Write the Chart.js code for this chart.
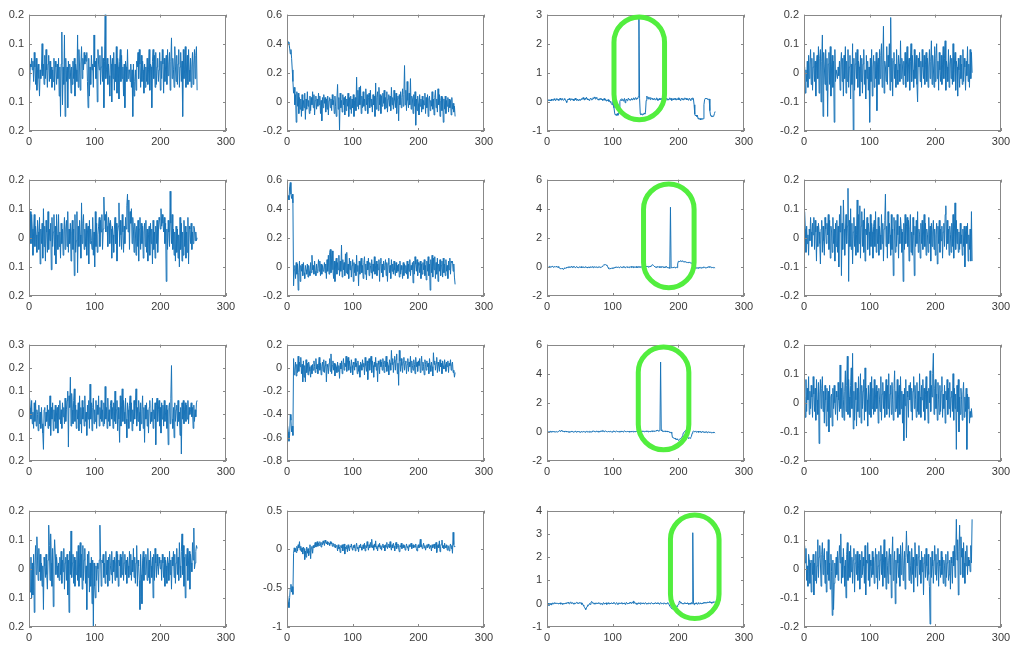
<!DOCTYPE html>
<html>
<head>
<meta charset="utf-8">
<script src="https://cdn.jsdelivr.net/npm/chart.js@4.4.0/dist/chart.umd.min.js"></script>
<style>
  body { margin: 0; background: #fff; width: 1015px; height: 648px; overflow: hidden; position: relative; }
  canvas { position: absolute; }
</style>
</head>
<body>
<script>
// row 1
const r1c1 = [
  -.06,.03,.02,.05,.01,.04,-.03,.07,.02,-.04,.05,-.06,.01,.03,-.02,-.08,
  .01,-.02,.02,.1,-.01,.03,-.04,.06,-.02,.08,.01,-.05,.03,.06,-.03,.04,
  -.02,.02,-.05,.01,-.03,.05,-.06,.04,.02,-.04,.03,-.02,.05,-.08,.02,-.15,
  .03,.14,-.11,.02,-.04,.13,-.15,.05,-.03,.02,-.12,.04,-.02,.03,.01,-.07,
  .02,-.04,.04,-.02,.05,-.08,.03,.01,-.03,.13,-.05,.08,.02,-.06,.03,.09,
  -.02,.05,.01,.07,.03,.06,.04,.07,-.03,-.12,.05,-.08,.02,-.04,.06,.01,
  .03,-.05,.13,.02,.04,-.02,.05,-.1,.08,.03,.01,.06,-.04,.02,.09,-.03,
  .05,-.12,.04,.2,-.02,.01,.05,-.04,.03,-.01,-.08,.06,.03,-.1,.05,-.02,
  .07,-.06,.03,-.03,.09,-.07,.05,.02,-.09,.04,.08,-.03,.06,-.02,.02,-.08,
  .03,-.12,.04,.02,-.03,.08,-.02,.01,.01,-.03,.03,-.05,.01,-.15,.03,-.08,
  -.03,.01,-.06,.04,.02,.07,-.02,.08,.03,-.05,.06,-.03,.04,.01,-.07,.03,
  -.05,.02,-.03,.05,-.04,.01,.08,-.06,.03,.02,-.12,.04,.08,-.02,.06,-.05,
  .07,-.04,.02,.05,-.03,.01,.07,-.06,.04,-.02,.08,.03,-.07,.05,-.03,.02,
  .06,-.04,.08,-.01,.03,.07,-.06,.04,.12,-.02,.05,.01,-.05,.09,.02,-.03,
  .06,-.04,.03,.08,-.05,.02,.07,-.03,.04,-.15,.08,-.02,.01,.09,-.05,.02,
  .06,-.04,.08,.01,-.03,.05,-.05,.02,.07,-.04,.03,.08,-.02,.06,.09,-.06
];
const r1c2 = [
  .42,.41,.4,.37,.33,.36,.3,.22,.14,.06,.1,-.02,.05,-.14,.07,-.03,
  .06,-.08,.03,-.05,.02,-.1,.05,-.06,.01,-.04,.06,-.12,.02,-.05,.07,-.03,
  .01,-.08,.04,-.06,.03,-.02,.07,-.04,.05,-.09,.01,.04,-.05,.02,-.03,.06,
  -.02,.04,-.08,.01,-.13,.03,-.04,.05,-.01,.03,-.07,.02,-.05,.04,-.09,.01,
  .03,-.04,.02,-.06,.05,-.02,.01,-.08,.04,-.03,-.1,.02,.12,-.05,.03,-.2,
  .06,-.04,.01,-.07,.05,-.02,.03,-.09,.04,-.06,.02,-.03,.06,-.1,.03,-.05,
  .04,-.08,.02,-.04,.05,-.1,.01,.03,-.06,.17,-.03,.08,-.05,.1,-.02,.11,
  -.08,.04,-.04,.07,-.03,.02,-.06,.09,-.02,.05,-.08,.03,.06,-.04,.08,-.03,
  .02,-.07,.05,-.02,.04,-.1,.13,-.05,.03,.07,-.06,.1,-.02,.05,-.08,.04,
  -.03,.06,-.01,.08,-.05,.03,-.04,.07,-.07,.02,.05,-.03,.04,-.06,.1,-.02,
  .03,-.05,.08,.01,-.04,.06,-.08,.02,.04,-.13,.05,-.02,.07,-.04,.03,.09,
  -.03,.05,.25,-.02,.08,-.06,.14,.01,-.04,.06,-.02,.16,-.05,.04,.02,-.08,
  .05,-.03,.07,-.16,.02,-.06,.04,-.01,-.09,.05,-.03,.02,-.07,.04,-.05,.01,
  -.02,.06,-.08,.03,-.04,.05,-.1,.02,.04,-.06,.01,-.03,.07,-.05,.02,-.09,
  .03,.08,-.04,.02,-.07,.09,-.02,.05,-.1,.01,.04,-.06,.03,-.14,.02,-.05,
  .04,-.08,.01,-.03,.03,-.07,.02,-.04,.01,-.09,.03,-.05,-.01,-.07,-.03,-.1
];
const r1c3 = [
  .02,.05,.08,.04,.07,.03,.1,.06,.09,.05,.11,.07,.04,.08,.12,.06,
  .09,.05,.1,.13,.08,.06,.11,.09,.05,.08,.12,.07,.03,-.02,.06,.1,
  .08,.12,.07,.05,.09,.11,.06,.1,.04,.08,.13,.07,.05,.09,.06,.03,
  .07,.1,.05,.08,.12,.09,.15,.1,.06,.13,.09,.16,.11,.07,.1,.05,
  .08,.12,.1,.06,.09,.14,.11,.17,.13,.09,.15,.12,.08,.1,.06,.11,
  .09,.13,.07,.1,.05,.08,.12,.06,.09,.03,.07,.04,.08,.02,.05,-.01,
  .02,-.06,-.1,-.04,.08,-.2,-.38,-.45,-.42,-.47,-.4,-.46,-.43,-.3,.02,.08,
  .05,.11,.07,.03,.09,.12,-.03,.06,.1,.04,.08,.13,.07,.1,.05,.09,
  .12,.06,.1,.14,.08,.11,.15,.09,.13,.1,.18,2.9,.12,-.4,-.44,-.42,
  -.45,-.41,-.43,-.38,-.42,-.35,.05,.2,.14,.1,.17,.12,.08,.15,.11,.09,
  .13,.07,.1,.12,.06,.09,.14,.1,.05,.08,.12,.07,.11,.09,.13,.06,
  .1,.08,.12,.05,.09,.13,.07,.11,.06,.1,.14,.08,.12,.05,.09,.11,
  .07,.12,.08,.13,.06,.1,.09,.14,.07,.11,.05,.1,.13,.08,.12,.06,
  .1,.14,.09,.12,.07,.11,.06,.1,.13,.08,.05,.12,.09,.14,.1,-.1,
  -.42,-.48,-.45,-.5,-.46,-.58,-.55,-.6,-.57,-.62,-.59,-.56,-.6,-.58,-.1,.08,
  .12,.1,.13,.09,.11,.08,.1,-.3,-.45,-.5,-.47,-.52,-.49,-.48,-.4,-.33
];
const r1c4 = [
  .02,-.07,.01,-.03,.04,-.05,.06,-.02,.03,.08,-.04,.05,-.06,.02,.07,-.03,
  .04,-.08,.03,.06,-.02,.09,-.07,.05,.08,-.1,.04,.13,-.15,.07,.02,-.04,
  .08,-.06,.05,-.15,.03,.07,-.04,.09,-.08,.02,.06,-.05,.04,-.17,.08,-.03,
  .01,.01,-.02,.02,-.01,.04,-.06,.03,.07,-.03,.05,-.08,.06,-.02,.09,-.07,
  .04,-.03,.08,-.05,.02,.06,-.09,.03,-.04,.1,-.2,.05,-.06,.03,.07,-.02,
  .08,-.05,.04,.02,-.08,.06,-.03,.05,-.07,.03,.08,-.04,.01,-.09,.06,-.02,
  .04,-.06,.02,-.17,.05,-.03,.08,-.08,.02,.06,-.05,.04,-.02,.07,-.13,.03,
  .05,-.04,.08,-.02,.06,.1,-.05,.03,.16,-.07,.04,.02,-.03,.09,-.04,.06,
  .02,.1,-.06,.19,-.03,.05,-.08,.04,.07,-.02,.03,-.05,.08,.01,-.04,.06,
  .03,-.03,.11,-.02,.05,.02,-.04,.04,-.01,.07,-.05,.03,.09,-.03,.02,.05,
  -.06,.04,.1,-.03,.06,.01,-.05,.08,-.02,.03,.06,-.04,-.1,.05,.02,.07,
  -.03,.04,-.05,.08,.02,-.02,.06,-.04,.03,.07,-.03,.05,-.05,.02,.08,-.02,
  .04,.11,-.04,.06,.02,-.05,.09,-.03,.05,.1,-.02,.04,-.06,.07,.01,-.03,
  .06,-.04,.03,.09,-.02,.05,.11,-.06,.04,.02,-.03,.08,-.05,.03,.06,-.02,
  .05,-.04,.1,-.03,.03,.07,-.06,.04,.02,-.08,.05,.01,-.05,.06,-.02,.03,
  -.04,.08,-.03,.05,.02,-.06,.04,-.01,.09,-.03,.03,-.05,.08,-.02,.07,0
];
// row 2
const r2c1 = [
  0,.09,-.02,.08,.03,-.06,.02,.08,-.03,.04,.01,-.05,.06,.02,-.04,.07,
  -.09,.03,-.02,.05,-.07,.1,-.03,.04,-.08,.06,.02,-.05,.09,-.04,.03,-.01,
  .05,-.11,.07,-.03,.02,.08,-.06,.04,-.09,.08,.01,-.04,.08,-.03,.02,-.07,
  .05,-.02,.03,-.06,.02,.07,-.04,.03,.06,-.03,.09,-.05,.03,-.02,.05,-.08,
  .02,.06,-.04,.03,-.13,.08,-.05,-.01,.09,-.12,.04,-.03,.06,.01,-.07,.12,
  -.02,.05,.08,-.04,.03,-.03,.05,-.06,.02,.04,-.09,.06,-.02,.03,-.01,-.04,
  .07,-.06,.02,-.1,.09,-.03,.05,-.05,.01,.04,.07,-.03,.06,.02,.08,-.04,
  .03,.14,.06,.08,.02,.09,.04,-.03,.07,.05,-.02,.06,.03,-.07,.04,.01,
  -.05,.03,.07,-.02,.05,-.08,.02,.04,.12,-.03,.06,.01,-.04,.08,.02,-.05,
  .04,-.02,.07,.03,.11,.15,.02,.13,-.04,.09,.05,.1,-.02,.07,.03,-.05,
  .05,.02,-.06,.04,-.03,.06,-.08,.03,.07,-.04,.05,-.02,.04,-.07,.02,.05,
  -.03,.06,-.05,.03,-.08,.01,.04,-.06,.05,-.02,.03,-.09,.06,-.04,.02,-.07,
  .04,-.02,.06,-.05,.02,.07,.06,.03,.1,.04,.08,.05,.02,.07,-.02,.05,
  -.15,.03,-.04,.06,.02,-.03,.16,.05,-.02,.08,-.04,.03,-.06,.02,-.08,.04,
  -.05,.03,-.07,.01,-.1,.07,-.04,.05,-.08,.02,-.06,.06,-.03,.04,-.07,.02,
  -.05,.07,-.09,.04,.03,-.02,.05,-.04,.02,-.02,.04,.03,-.01,.02,-.01,0
];
const r2c2 = [
  .47,.49,.46,.55,.58,.5,.47,.5,.44,-.13,-.02,.01,-.08,.03,-.05,.02,
  -.16,-.04,.04,-.1,.01,-.03,.02,-.06,.03,-.04,-.08,.01,-.02,-.05,.02,-.07,
  .01,-.03,-.06,.03,-.04,.08,-.02,.01,-.05,.04,-.03,-.06,.02,-.04,-.01,.05,
  -.03,.04,-.06,.02,-.05,.01,-.03,-.02,.03,-.04,.02,-.08,.05,-.03,.08,-.05,
  .1,.12,-.04,.06,.11,-.02,-.08,.04,-.1,.02,.06,-.05,.03,-.02,.08,-.06,
  .04,-.03,.15,-.07,.05,-.02,.03,-.06,.09,-.04,.1,-.05,.02,-.08,.06,-.02,
  .04,-.07,.01,.05,-.1,.03,-.04,.02,-.06,.08,-.03,.01,-.13,.04,-.05,.02,
  .06,-.04,.01,-.08,.03,.07,-.05,.02,-.09,.04,-.02,.06,-.06,.03,.01,-.04,
  .05,-.08,.02,-.03,.07,-.05,.01,.04,-.06,.02,-.02,.05,-.1,.03,.06,-.04,
  .02,-.07,.04,-.02,.01,.05,-.06,.03,-.1,.02,.06,-.04,.01,-.08,.05,-.03,
  .02,-.05,.04,-.02,-.06,.03,-.04,.01,-.03,.02,-.07,.04,-.05,.01,-.02,-.08,
  .03,-.06,.02,-.04,.01,-.05,.04,-.08,.02,-.03,.05,-.06,.01,-.02,.03,-.11,
  .04,-.05,.07,.02,-.03,.05,-.06,.03,.01,-.04,.04,-.08,.02,-.05,.03,-.02,
  .05,-.06,.01,-.09,.04,-.03,.07,-.06,.02,-.16,.05,-.04,.08,-.07,.06,-.02,
  .07,-.08,.03,-.05,.06,-.1,.02,-.03,.05,-.06,.01,.04,-.07,.06,-.04,.02,
  -.06,.05,-.03,.01,-.08,.04,-.02,.06,-.05,.04,.03,.04,-.03,.02,-.07,-.12
];
const r2c3 = [
  .02,-.03,.01,.04,-.02,.03,-.01,.05,.02,-.04,.01,.03,-.02,.04,0,-.03,
  .02,-.05,-.08,-.12,-.1,-.15,-.09,-.13,-.18,-.11,-.06,-.1,-.04,-.08,-.02,-.05,
  .01,-.03,.02,-.04,.03,-.01,-.06,.02,-.02,.01,-.05,-.02,.03,-.04,0,-.06,
  -.02,.01,-.04,.02,-.06,-.01,-.03,.01,-.05,-.02,.02,-.04,-.01,-.07,-.03,0,
  -.05,-.02,.01,-.04,.02,-.03,-.06,-.01,.02,-.04,-.02,.01,-.05,-.03,.02,-.01,
  -.04,0,-.02,.03,.08,.12,.15,.13,.16,.11,.14,.05,-.05,-.12,-.15,-.1,
  -.13,-.08,-.11,-.06,-.09,-.03,-.07,-.01,-.05,.01,-.04,-.02,0,-.06,-.03,.02,
  -.04,-.01,-.05,.02,-.03,0,-.06,-.02,.01,-.04,.02,-.03,-.05,.01,-.02,.03,
  -.04,-.01,.02,-.05,-.02,.01,-.03,.03,-.06,-.01,.02,-.04,0,-.03,.03,-.02,
  .01,-.04,.02,-.01,.04,-.03,.05,0,.03,-.02,.04,.01,.06,.02,.1,.13,
  .15,.1,.05,.02,-.03,.01,-.04,0,.03,-.02,.02,-.05,.01,-.03,.04,-.01,
  -.04,.02,-.06,.01,-.03,.03,-.05,-.02,-.08,-.04,-.1,4.1,-.06,-.03,-.05,-.02,
  -.06,-.01,-.04,-.07,-.03,-.05,.2,.38,.4,.36,.42,.39,.37,.41,.38,.35,
  .36,.33,.35,.31,.34,.3,.32,.28,.31,.27,.3,.26,.22,.1,-.05,-.08,
  -.1,-.06,-.09,-.04,-.08,-.05,-.1,-.03,-.07,-.04,-.08,-.02,-.06,-.05,.01,-.04,
  -.07,-.03,-.06,-.02,-.05,.02,-.03,.04,-.02,-.05,-.01,-.04,-.06,-.03,-.05,-.07
];
const r2c4 = [
  .09,.03,-.05,.04,-.02,.01,-.06,.03,-.01,.07,.02,-.03,.05,.01,.07,-.04,
  .06,.02,-.08,.04,-.03,.05,.02,-.02,-.09,.03,.06,-.05,.04,-.01,-.06,.07,
  .03,-.02,.05,.01,.08,-.04,.06,-.07,.04,.02,-.05,.07,-.02,.03,-.08,.05,
  -.03,.06,-.05,.04,-.1,.08,.02,.11,-.13,.05,-.04,.13,.03,-.06,.02,.08,
  -.02,.04,.17,-.15,.06,-.03,.1,-.04,.05,-.09,.02,.07,-.03,.04,-.06,.01,
  .13,-.05,.08,-.02,.11,-.07,.04,.09,-.03,.06,-.05,.1,-.08,.03,.01,.07,
  -.04,.05,.02,-.06,.08,-.03,.05,.02,-.07,.04,.06,-.03,.09,-.05,.03,-.02,
  .07,-.06,.04,.01,-.04,.08,-.02,.05,-.08,.03,.06,.15,-.03,.04,-.07,.09,
  -.02,.05,.01,-.06,.08,-.04,.03,-.13,.07,.02,-.05,.06,-.03,.08,.01,-.07,
  .04,-.02,.07,.03,-.05,.02,-.15,.05,-.04,.08,-.02,.04,.07,-.03,.06,-.08,
  .03,.08,-.05,.02,-.06,.07,.01,-.13,.04,-.03,.06,-.02,.09,-.05,.03,.01,
  -.07,.05,-.02,.06,-.04,.02,.08,-.03,.05,-.06,.03,.01,-.05,.07,-.02,.04,
  -.08,.05,-.03,.02,.06,-.04,.03,-.06,.01,.05,-.09,.04,-.02,.06,-.05,.03,
  -.01,.04,-.07,.02,.05,-.03,.08,.11,-.04,.06,-.02,.03,-.06,.04,.01,-.05,
  .05,-.03,.08,-.07,.02,.12,-.04,.06,-.02,.03,-.05,.02,-.04,.05,-.02,.01,
  -.06,.03,-.03,.04,-.1,.02,.04,-.02,.05,-.08,.01,-.04,.03,-.08,.09,-.08
];
// row 3
const r3c1 = [
  .07,.03,-.02,.06,-.04,.01,-.06,.05,-.03,.06,-.05,.02,0,-.07,.04,-.04,
  .01,-.06,.03,-.04,-.08,-.15,.02,.03,-.05,.01,-.03,.04,-.06,.02,-.05,.08,
  -.09,.03,-.02,.05,-.07,.02,-.03,.04,-.06,.01,.03,-.08,.04,-.02,.06,-.04,
  .02,-.06,.05,-.01,.03,-.04,.07,-.03,.02,.06,.1,-.14,.08,.03,.16,-.05,
  .09,.02,-.04,.06,.11,-.03,.04,-.06,.02,-.02,.05,-.07,.08,-.04,.03,-.08,
  .06,-.02,.03,-.05,.08,-.03,.01,-.09,.04,-.02,.06,-.06,.13,-.02,.05,-.07,
  .03,.07,-.04,.02,-.03,.06,-.06,.04,0,.08,-.05,.03,-.02,.06,-.03,.02,
  -.05,.05,-.04,.12,-.02,.03,-.06,.07,-.03,.02,-.05,.04,.06,-.02,.03,-.06,
  .05,-.03,.1,-.04,.02,.06,-.07,.03,-.02,-.12,.08,-.05,.04,.11,-.03,.06,
  .01,-.04,.07,-.02,-.1,.05,.02,-.06,.04,.08,-.03,.05,-.07,.02,-.04,.06,
  -.02,.04,.11,-.05,.03,-.03,.06,.01,-.07,.05,-.04,.02,.08,-.06,.03,-.12,
  .04,-.02,.05,-.05,.02,-.08,.03,.06,-.04,.01,-.03,.07,-.06,.02,-.02,.05,
  -.13,.04,.07,-.03,.02,.06,-.05,.03,-.08,.05,-.02,.04,-.05,.06,-.03,.01,
  .04,-.06,.02,-.13,.03,.05,-.04,.07,.21,-.02,-.06,.03,-.1,.05,-.03,.02,
  .04,-.05,.06,-.03,.01,-.09,.03,-.17,.05,-.02,.06,-.04,.02,.05,-.03,.04,
  -.02,.06,-.04,.03,0,.02,.05,-.01,.03,-.06,.04,-.03,.02,-.01,.05,.06
];
const r3c2 = [
  -.5,-.55,-.63,-.58,-.4,-.45,-.55,-.5,-.58,.08,-.06,-.02,.05,-.07,.03,-.04,
  .1,-.03,.05,.01,.09,-.05,.03,-.12,.06,-.08,.02,-.12,.07,-.04,.04,-.06,
  .05,.01,-.03,-.08,.02,-.05,.03,-.02,.06,.01,-.04,.08,-.01,.03,-.05,.02,
  .09,-.02,.04,-.06,.01,.05,-.03,.07,-.04,.02,.06,-.12,.03,.01,-.05,.04,
  .08,-.03,.12,-.05,.02,.06,-.02,.04,-.07,.03,.01,-.04,.05,-.03,.02,-.09,
  .04,-.01,.06,-.05,.03,.08,-.02,.04,.01,.1,-.03,.05,.09,-.02,.06,.01,
  -.04,.07,.02,-.06,.05,.03,-.02,.08,.01,.04,-.05,.06,-.03,.02,-.08,.05,
  .03,-.02,.07,.01,.04,-.06,.09,.02,-.03,.06,-.1,.04,.08,-.02,.05,.1,
  -.04,.06,.02,-.08,.05,.01,.09,-.02,.04,-.12,.06,.03,-.05,.07,.01,.05,
  -.02,.08,.03,-.04,.06,.01,.1,-.03,.05,.02,-.06,.07,.04,-.02,.15,.03,
  .08,-.04,.05,.1,-.02,.07,.12,-.05,.04,-.15,.15,.06,-.03,.08,.02,-.04,
  .05,.09,-.02,.04,.06,-.05,.03,.08,-.03,.05,.01,.1,-.04,.06,.02,-.02,
  .07,.03,-.05,.09,.01,.05,-.03,.06,.02,.08,-.04,.04,.1,-.02,.05,.01,
  -.06,.07,.03,-.02,.06,.01,.04,-.05,.08,.02,-.03,.05,.01,-.07,.13,.03,
  .06,-.02,.04,.09,-.04,.05,.02,-.03,.07,.01,.04,-.05,.06,.02,-.01,.07,
  .03,-.03,.05,.01,.06,-.04,.04,.02,.07,-.02,.03,.05,-.04,-.02,-.08,-.04
];
const r3c3 = [
  .02,-.01,.03,0,.04,-.02,.01,.03,-.01,.02,0,.04,-.02,.01,.03,-.01,
  .02,.05,.1,.03,.06,.12,.04,.08,.02,.05,-.01,.03,.06,0,.02,-.02,
  .03,.01,-.03,.02,.04,-.01,.03,0,-.02,.02,.05,.01,-.03,.03,0,.02,
  -.01,.03,-.04,.01,.04,-.02,.02,.05,0,-.03,.02,.04,-.01,.03,.01,-.02,
  .04,0,.02,-.03,.06,.03,.08,.02,.05,-.01,.03,.07,.01,.04,-.02,.03,
  .06,.02,.05,.09,.03,.07,.01,.05,.08,.02,.04,-.01,.03,.06,0,.02,
  .05,.01,-.02,.03,.06,.02,.04,-.01,.03,.07,.02,.05,0,.03,-.02,.04,
  .06,.01,.03,-.01,.04,.08,.02,.05,0,.03,.06,.01,.04,-.02,.02,.05,
  .01,.03,-.01,.04,.02,.06,0,.03,.05,.01,.04,-.01,.02,.05,0,.03,
  .06,.02,.04,.01,.05,.03,.07,.02,.04,0,.06,.03,.05,.01,.04,.08,
  .02,.05,.03,.07,.04,.1,.06,.12,.08,.05,.07,.1,4.8,.15,.06,.03,
  .05,.02,.04,.07,.01,.03,.06,0,.02,-.03,.01,-.05,-.02,-.1,-.38,-.42,
  -.4,-.46,-.43,-.5,-.55,-.48,-.52,-.58,-.54,-.5,-.47,-.44,-.4,-.3,-.15,-.05,
  0,.06,.1,.08,-.05,-.3,-.42,-.45,-.4,-.44,-.38,-.3,-.1,.02,.05,.03,
  .01,.04,-.02,.03,0,.05,-.03,.02,-.01,.04,-.04,.01,.03,-.02,.02,-.05,
  0,-.03,.02,-.06,-.01,.01,-.04,0,-.02,-.07,-.03,-.05,-.01,-.06,-.04,-.08
];
const r3c4 = [
  .02,-.05,.08,-.03,.05,.01,.09,-.04,.04,-.02,.06,.02,-.05,.09,.03,-.03,
  .05,-.06,.08,.01,-.04,.07,-.14,.03,.08,-.02,.05,.09,-.03,.04,-.07,.06,
  .01,-.08,.05,-.03,.04,-.1,.06,-.05,.02,.03,-.08,.05,-.02,.06,0,-.04,
  .04,.02,-.06,.07,.01,-.03,.13,-.02,.05,-.05,.07,.01,-.06,.04,.11,-.03,
  .06,.16,-.04,.08,.02,-.05,.06,.12,-.02,.17,-.09,.04,-.06,.07,.01,-.08,
  .05,-.03,.09,-.05,.03,.1,-.07,.06,-.02,.04,.08,-.06,.12,-.03,.05,.01,
  -.08,.06,-.04,.02,.07,-.05,.09,-.02,.05,-.04,.08,-.03,.03,.06,-.02,.04,
  -.07,.05,.01,-.03,.09,-.06,.03,.07,-.02,.04,-.05,.02,.08,-.04,.06,-.02,
  .1,-.05,.03,.06,-.04,.07,.01,-.06,.05,.11,-.03,.04,-.02,.08,-.05,.03,
  .06,-.04,.09,-.02,.04,-.07,.03,-.13,.05,-.01,.08,-.12,.04,.02,-.05,.06,
  .01,.07,-.03,.05,-.06,.04,.09,-.02,.06,.01,-.05,.07,-.03,.04,-.04,.1,
  .02,-.05,.06,.01,.08,-.03,.05,-.06,.03,.09,-.02,.04,-.07,.05,0,.11,
  -.03,.06,.02,.1,.17,-.04,.05,.08,-.02,.03,-.06,.07,.01,-.04,.06,-.03,
  .04,.09,-.05,.03,-.02,.06,-.07,.04,.01,.08,-.04,.05,-.02,.07,-.05,.02,
  .04,-.03,.1,-.06,.05,-.02,.03,-.16,.06,-.03,.08,-.1,.02,-.04,.05,.01,
  -.06,.03,.07,-.05,.02,-.03,.05,-.16,.03,-.02,.02,-.07,-.03,-.05,-.02,-.05
];
// row 4
const r4c1 = [
  .03,-.08,.04,-.1,.02,-.09,.05,-.15,.01,.08,-.02,.11,.03,-.04,.07,-.01,
  .05,-.04,.02,-.06,.01,-.14,.04,.01,-.03,.05,-.02,-.07,.03,.15,.08,-.04,
  .12,.02,-.06,.07,-.13,.03,.1,.05,-.02,.04,.01,-.03,.02,-.04,.04,-.02,
  .06,-.05,.03,-.01,.07,-.07,.02,.04,-.04,.05,-.09,.03,-.15,.06,-.02,.13,
  -.03,.02,.05,-.05,.04,-.06,.03,-.02,.06,-.04,.08,-.06,.02,.09,-.03,.05,
  -.07,.08,-.04,.03,.07,-.05,.01,-.14,.05,-.03,.06,-.08,.02,-.06,.04,-.12,
  .03,-.2,.02,-.06,-.1,.01,-.04,.02,0,-.08,.03,.15,.04,-.06,.03,.02,
  .05,-.03,.02,-.05,.06,-.02,.03,-.06,.04,-.04,.05,.01,-.02,.06,-.05,.03,
  -.01,.04,-.04,.02,.06,-.03,.05,-.06,.03,.01,.05,-.03,.04,-.02,.06,-.04,
  .02,.05,-.02,.03,-.05,.04,.01,-.03,.06,-.02,.05,-.04,.03,-.01,.07,-.03,
  .04,-.05,.02,.08,-.06,.03,.01,-.04,-.14,.05,-.02,-.12,.03,.06,-.04,.04,
  -.02,.05,.02,-.04,.07,-.03,.03,-.05,.06,.01,-.03,.04,-.1,.05,-.04,.07,
  .02,-.03,.05,.01,-.02,.04,.02,0,.03,-.04,.05,.02,-.03,.04,-.06,.03,
  .01,-.05,.04,.02,-.04,.06,-.02,.03,-.07,.04,.01,.06,-.03,.05,-.05,.02,
  .07,-.02,.04,-.04,.09,.01,-.03,.06,.12,-.02,.08,-.06,.04,-.1,.05,.01,
  .07,-.04,.03,.06,-.07,.05,.02,-.01,.09,.03,.14,0,.02,.06,.08,.07
];
const r4c2 = [
  -.6,-.68,-.75,-.62,-.5,-.45,-.55,-.48,-.58,-.05,.02,-.03,.01,-.04,.04,-.02,
  .06,.02,.1,-.01,.04,-.03,.02,-.06,.03,.01,-.13,-.02,-.1,.03,-.05,.01,
  -.08,-.03,.06,-.12,.02,.04,-.05,.05,.02,.06,.09,.03,.07,.1,.04,.08,
  .05,.1,.07,.03,.09,.06,.11,.08,.05,.12,.09,.07,.1,.06,.09,.08,
  .05,.1,.07,.09,.04,.08,.06,.03,.07,.02,.05,.04,-.02,.06,.01,.03,
  -.04,.05,.02,.06,-.02,.04,.07,-.06,.03,.01,.05,-.03,.06,.02,-.02,.04,
  .03,.07,.01,-.01,.05,.02,.06,-.02,.04,.08,.01,.03,-.03,.05,.02,.07,
  .03,-.01,.04,.06,.01,.08,-.02,.05,.02,.1,.04,-.01,.06,.02,.09,.03,
  .13,.02,.05,-.01,.07,.03,.11,.01,.04,-.02,.06,.03,.08,.01,.05,-.01,
  .04,.07,.02,.05,-.02,.06,.03,.09,.01,.04,.07,.02,.1,.03,-.01,.06,
  .02,.08,.04,-.02,.05,.09,.01,.04,.07,.02,-.03,.05,.03,.08,.01,.04,
  .06,.02,.05,-.01,.03,.07,.02,.04,-.02,.06,.03,.05,.08,.01,.04,.06,
  .02,.05,.03,.07,.01,-.02,.04,.06,.02,.05,.13,.03,.06,.01,.04,.08,
  .02,.05,-.01,.03,.06,.02,.07,.04,.01,.05,.03,-.02,.06,.02,.04,.07,
  .01,.05,.09,-.04,.03,.06,.02,.11,-.03,.04,.07,.12,.02,.05,.01,.08,
  .04,.02,.06,-.01,.05,.03,-.02,.04,.07,.01,.05,-.05,.22,.06,.03,.04
];
const r4c3 = [
  -.05,.02,-.08,0,-.03,.03,-.06,.01,.04,-.02,.02,.05,0,.03,.01,.02,
  -.01,.03,0,.04,-.02,.02,.01,-.03,.03,0,.02,-.01,.04,.01,.03,.06,
  .02,0,.04,.08,.03,.01,.05,.02,-.02,.03,.01,.04,.06,.02,.05,0,
  .03,.06,.02,.04,-.03,.01,-.06,-.1,-.15,-.2,-.25,-.18,-.12,-.05,-.08,-.02,
  .01,-.03,.06,.1,.03,.05,0,.02,-.02,.03,.01,.04,-.01,.02,.05,0,
  -.02,.03,.01,-.04,.02,.05,-.01,.03,0,.04,-.03,.02,.01,.05,-.02,.03,
  0,.04,.02,-.01,.03,.06,.01,-.02,.02,.05,0,-.03,.03,.01,.04,-.01,
  .02,.05,-.02,.03,0,.04,-.03,.02,.06,0,.03,-.01,.04,.02,.07,.01,
  .03,.08,.02,.12,.03,.05,0,.02,-.03,.01,.04,0,.02,-.02,.05,.01,
  .03,0,.04,-.01,.02,.05,.01,-.02,.03,0,.04,.02,-.01,.03,.05,.01,
  .02,-.02,.03,0,.05,.02,-.01,.04,.01,.03,-.02,.02,.05,0,.03,.01,
  -.01,.04,.02,0,.03,-.02,.02,.05,.01,-.05,-.1,-.14,-.18,-.2,-.22,-.25,
  -.22,-.18,-.2,-.15,-.1,-.12,-.06,-.03,.05,.12,.06,.02,.04,0,.03,-.02,
  .02,.05,0,.03,-.01,.04,.02,-.03,.01,.03,-.02,.05,0,3.05,.02,-.04,
  .03,-.01,.04,0,-.03,.02,.05,-.02,.01,.04,0,.03,-.01,.05,.02,.06,
  .03,.07,.02,.05,.08,.03,.06,.1,.04,.07,.02,.08,.05,.09,.06,.1
];
const r4c4 = [
  .08,.02,.07,-.04,.01,-.06,.05,.03,-.05,.02,-.08,.03,-.02,.05,-.09,.02,
  -.04,.06,-.05,.01,.1,-.03,.04,.08,.02,-.06,.05,.09,-.02,.04,.07,-.05,
  .03,-.08,.06,-.02,.1,-.04,.02,-.07,.05,-.01,-.16,.03,-.14,-.05,.02,-.03,
  .04,-.02,.06,-.04,.03,.08,.02,.12,-.05,.04,-.03,.07,.01,-.06,.03,-.1,
  .05,.09,-.04,.02,.06,-.03,.08,-.01,.04,-.05,.03,.07,-.08,.02,.05,-.02,
  .06,-.04,.01,.05,-.07,.03,-.03,.06,-.02,.04,.01,-.05,.08,-.09,.03,.02,
  .09,-.04,.05,-.06,.03,.01,-.03,.06,-.02,.04,-.05,.02,.07,-.03,.05,-.07,
  .01,.06,-.04,.03,.08,-.02,.05,-.06,.02,.1,-.03,.04,-.07,.06,.01,-.05,
  .03,.07,-.02,.05,-.1,.04,.11,-.04,.02,.06,-.12,.03,-.05,.07,.02,-.03,
  .05,-.06,.08,-.02,.03,.09,-.04,.01,.06,-.07,.04,.13,.05,.02,.08,-.04,
  .06,.01,-.05,.07,-.02,.04,-.08,.03,.09,-.03,.05,.01,-.06,.04,.08,-.02,
  .03,-.05,.06,-.01,.04,-.09,.02,.05,-.03,.07,.01,-.04,.05,-.02,-.06,-.19,
  .04,-.03,.06,.01,-.05,.03,.08,-.02,.05,-.04,.02,.07,-.06,.03,.01,-.03,
  .06,-.02,.04,-.05,.03,.01,-.06,.05,-.03,.02,.06,-.04,-.02,.03,-.07,.04,
  .02,-.05,.06,.01,.08,-.03,.04,.17,.03,.1,-.09,.06,.15,-.02,.11,.04,
  .07,-.03,.09,.02,-.05,.06,.01,.08,-.02,.04,.01,.03,-.01,.08,.02,.17
];

const series = [
  r1c1, r1c2, r1c3, r1c4,
  r2c1, r2c2, r2c3, r2c4,
  r3c1, r3c2, r3c3, r3c4,
  r4c1, r4c2, r4c3, r4c4
];

// axis limits and tick steps, same order as series
const yMin  = [-0.2, -0.2, -1, -0.2,  -0.2, -0.2, -2, -0.2,  -0.2, -0.8, -2, -0.2,  -0.2, -1,   -1, -0.2];
const yMax  = [ 0.2,  0.6,  3,  0.2,   0.2,  0.6,  6,  0.2,   0.3,  0.2,  6,  0.2,   0.2,  0.5,  4,  0.2];
const yStep = [ 0.1,  0.2,  1,  0.1,   0.1,  0.2,  2,  0.1,   0.1,  0.2,  2,  0.1,   0.1,  0.5,  1,  0.1];
const xTicks = [0, 100, 200, 300];
// left column prints its tick labels without the minus sign
const unsignedTicks = [true, false, false, false, true, false, false, false, true, false, false, false, true, false, false, false];

// highlighted spikes: [xFrom, xTo, yFrom, yTo] in data units
const highlights = {
  2:  [102, 179, -0.61, 2.92],
  6:  [147, 224, -1.43, 5.7],
  10: [139, 216, -1.23, 5.83],
  14: [188, 262, -0.64, 3.81]
};

const plotLeft = [29, 287, 547, 804];
const plotTop = [13, 178, 343, 509];
const plotW = 197, plotH = 118;
const padL = 40, padT = 10, padR = 16, padB = 22;

Chart.defaults.font.family = '"Liberation Sans", Arial, sans-serif';
Chart.defaults.font.size = 11;
Chart.defaults.color = '#3a3a3a';

// MATLAB style box with inward ticks on all four sides
const boxPlugin = {
  id: 'box',
  afterDatasetsDraw(chart) {
    const { ctx, chartArea: a, scales } = chart;
    const tl = 3;
    ctx.save();
    ctx.strokeStyle = '#888';
    ctx.lineWidth = 1;
    ctx.strokeRect(Math.round(a.left) + 0.5, Math.round(a.top) + 0.5,
      Math.round(a.right - a.left) - 1, Math.round(a.bottom - a.top) - 1);
    ctx.beginPath();
    scales.x.ticks.forEach(t => {
      const px = Math.round(scales.x.getPixelForValue(t.value)) + 0.5;
      ctx.moveTo(px, a.bottom); ctx.lineTo(px, a.bottom - tl);
      ctx.moveTo(px, a.top); ctx.lineTo(px, a.top + tl);
    });
    scales.y.ticks.forEach(t => {
      const py = Math.round(scales.y.getPixelForValue(t.value)) + 0.5;
      ctx.moveTo(a.left, py); ctx.lineTo(a.left + tl, py);
      ctx.moveTo(a.right, py); ctx.lineTo(a.right - tl, py);
    });
    ctx.stroke();
    ctx.restore();
  },
  afterDraw(chart) {
    const h = chart.options.plugins.box.highlight;
    if (!h) return;
    const { ctx, scales } = chart;
    const x0 = scales.x.getPixelForValue(h[0]), x1 = scales.x.getPixelForValue(h[1]);
    const y0 = scales.y.getPixelForValue(h[3]), y1 = scales.y.getPixelForValue(h[2]);
    const r = Math.min(x1 - x0, y1 - y0) / 2;
    ctx.save();
    ctx.strokeStyle = '#52ee3e';
    ctx.lineWidth = 5;
    ctx.beginPath();
    ctx.moveTo(x0, y0 + r);
    ctx.arc(x0 + r, y0 + r, r, Math.PI, 1.5 * Math.PI);
    ctx.arc(x1 - r, y0 + r, r, 1.5 * Math.PI, 2 * Math.PI);
    ctx.lineTo(x1, y1 - r);
    ctx.arc(x1 - r, y1 - r, r, 0, 0.5 * Math.PI);
    ctx.arc(x0 + r, y1 - r, r, 0.5 * Math.PI, Math.PI);
    ctx.closePath();
    ctx.stroke();
    ctx.restore();
  }
};

series.forEach((vals, k) => {
  const row = Math.floor(k / 4), col = k % 4;
  const canvas = document.createElement('canvas');
  canvas.width = padL + plotW + padR;
  canvas.height = padT + plotH + padB;
  canvas.style.left = (plotLeft[col] - padL) + 'px';
  canvas.style.top = (plotTop[row] - padT) + 'px';
  document.body.appendChild(canvas);

  new Chart(canvas, {
    type: 'line',
    data: {
      datasets: [{
        data: vals.map((v, i) => ({ x: i + 1, y: v })),
        borderColor: '#1a74b8',
        borderWidth: 1,
        pointRadius: 0,
        tension: 0,
        fill: false
      }]
    },
    options: {
      responsive: false,
      animation: false,
      devicePixelRatio: 1,
      layout: { padding: { top: padT, right: padR, left: 0, bottom: 0 } },
      plugins: {
        legend: { display: false },
        tooltip: { enabled: false },
        box: { highlight: highlights[k] || null }
      },
      scales: {
        x: {
          type: 'linear',
          min: 0,
          max: 300,
          afterBuildTicks: s => { s.ticks = xTicks.map(v => ({ value: v })); },
          afterFit: s => { s.height = padB; },
          grid: { display: false, drawTicks: false },
          border: { display: false },
          ticks: { padding: 4, maxRotation: 0, callback: v => String(v) }
        },
        y: {
          min: yMin[k],
          max: yMax[k],
          afterFit: s => { s.width = padL; },
          grid: { display: false, drawTicks: false },
          border: { display: false },
          ticks: {
            stepSize: yStep[k],
            padding: 5,
            callback: v => {
              let t = Math.round(v * 100) / 100;
              if (unsignedTicks[k]) t = Math.abs(t);
              return String(t);
            }
          }
        }
      }
    },
    plugins: [boxPlugin]
  });
});
</script>
</body>
</html>
